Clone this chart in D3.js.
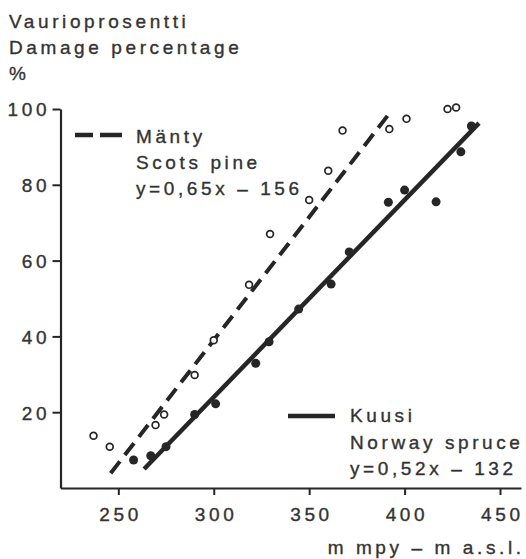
<!DOCTYPE html>
<html>
<head>
<meta charset="utf-8">
<script src="https://cdn.jsdelivr.net/npm/d3@7"></script>
<style>
  html, body { margin: 0; padding: 0; background: #fff; }
  svg { display: block; }
  text { font-family: "Liberation Sans", Arial, Helvetica, sans-serif; fill: #333; stroke: #333; stroke-width: 0.35px; }
</style>
</head>
<body>
<svg id="chart" width="526" height="559"></svg>
<script>
// Altitude (m a.s.l.) vs. damage percentage, Scots pine (open) and Norway spruce (filled)
const pineAltitude   = [237, 245.5, 269.5, 274, 290, 300, 318.5, 329.5, 350, 360, 367.5, 392, 401, 422.5, 427];
const pineDamage     = [13.8, 10.9, 16.6, 19.4, 29.8, 39, 53.6, 67, 76, 83.7, 94.3, 94.7, 97.4, 100, 100.4];
const spruceAltitude = [258, 267, 275, 290, 301, 322, 329, 344.5, 361.5, 371, 391.5, 400, 416.5, 429.5, 435];
const spruceDamage   = [7.4, 8.5, 10.9, 19.4, 22.2, 32.9, 38.6, 47.2, 53.8, 62.3, 75.4, 78.6, 75.5, 88.7, 95.5];

// Regression lines y = a*x + b and the altitude span each one is drawn over
const pineFit   = [0.65, -156];
const spruceFit = [0.52, -132];
const pineFitSpan   = [246, 392];
const spruceFitSpan = [263.5, 439];

const xTicks = [250, 300, 350, 400, 450];
const yTicks = [20, 40, 60, 80, 100];

const titleLines = ["Vaurioprosentti", "Damage percentage", "%"];
const pineLegend   = ["Mänty", "Scots pine", "y=0,65x – 156"];
const spruceLegend = ["Kuusi", "Norway spruce", "y=0,52x – 132"];
const xTitle = "m  mpy – m a.s.l.";

const ink = "#262626";
const FS = 19;    // font size of all lettering
const LS = 3.6;   // letter spacing of all lettering

const svg = d3.select("#chart");

const x = d3.scaleLinear().domain([219.7, 461]).range([60.5, 521]);
const y = d3.scaleLinear().domain([0, 100]).range([488, 109]);

// Axes
const yAxis = svg.append("g")
  .attr("transform", "translate(60.5,0)")
  .call(d3.axisLeft(y).tickValues(yTicks).tickSize(8).tickSizeOuter(0).tickPadding(6));
const xAxis = svg.append("g")
  .attr("transform", "translate(0,488)")
  .call(d3.axisBottom(x).tickValues(xTicks).tickSize(7).tickSizeOuter(0).tickPadding(13));

[yAxis, xAxis].forEach(g => {
  g.select(".domain").attr("stroke", ink).attr("stroke-width", 2.2);
  g.selectAll(".tick line").attr("stroke", ink).attr("stroke-width", 2);
  g.selectAll(".tick text")
    .style("font-family", '"Liberation Sans", Arial, sans-serif')
    .attr("font-size", FS)
    .attr("letter-spacing", LS);
});
yAxis.selectAll(".tick text").attr("dx", LS).attr("dy", "0.36em");
xAxis.selectAll(".tick text").attr("dx", LS / 2).attr("dy", "0.71em");

// Fitted lines
const fitLine = (fit, span) => span.map(v => [x(v), y(fit[0] * v + fit[1])]);
const line = d3.line();

svg.append("path")
  .attr("d", line(fitLine(pineFit, pineFitSpan)))
  .attr("fill", "none").attr("stroke", ink).attr("stroke-width", 4)
  .attr("stroke-dasharray", "15,8");

svg.append("path")
  .attr("d", line(fitLine(spruceFit, spruceFitSpan)))
  .attr("fill", "none").attr("stroke", ink).attr("stroke-width", 4.5);

// Observations
svg.append("g").selectAll("circle")
  .data(d3.zip(pineAltitude, pineDamage))
  .join("circle")
  .attr("cx", d => x(d[0])).attr("cy", d => y(d[1]))
  .attr("r", 3.4)
  .attr("fill", "#fff").attr("stroke", ink).attr("stroke-width", 1.7);

svg.append("g").selectAll("circle")
  .data(d3.zip(spruceAltitude, spruceDamage))
  .join("circle")
  .attr("cx", d => x(d[0])).attr("cy", d => y(d[1]))
  .attr("r", 4.5)
  .attr("fill", ink);

// Lettering
function textBlock(lines, x0, y0, step) {
  svg.append("g").selectAll("text")
    .data(lines)
    .join("text")
    .attr("x", x0)
    .attr("y", (d, i) => y0 + i * step)
    .attr("font-size", FS)
    .attr("letter-spacing", LS)
    .text(d => d);
}

textBlock(titleLines, 9, 28, 26);

// Legend: Scots pine
svg.append("path").attr("d", "M75,135H93M100,135H122")
  .attr("stroke", ink).attr("stroke-width", 4.5).attr("fill", "none");
textBlock(pineLegend, 136, 143, 26);

// Legend: Norway spruce
svg.append("path").attr("d", "M288,416H335")
  .attr("stroke", ink).attr("stroke-width", 4.5).attr("fill", "none");
textBlock(spruceLegend, 350, 422, 26.5);

// Axis title
svg.append("text")
  .attr("x", 521 + LS).attr("y", 554)
  .attr("text-anchor", "end")
  .attr("font-size", FS)
  .attr("letter-spacing", LS)
  .text(xTitle);
</script>
</body>
</html>
